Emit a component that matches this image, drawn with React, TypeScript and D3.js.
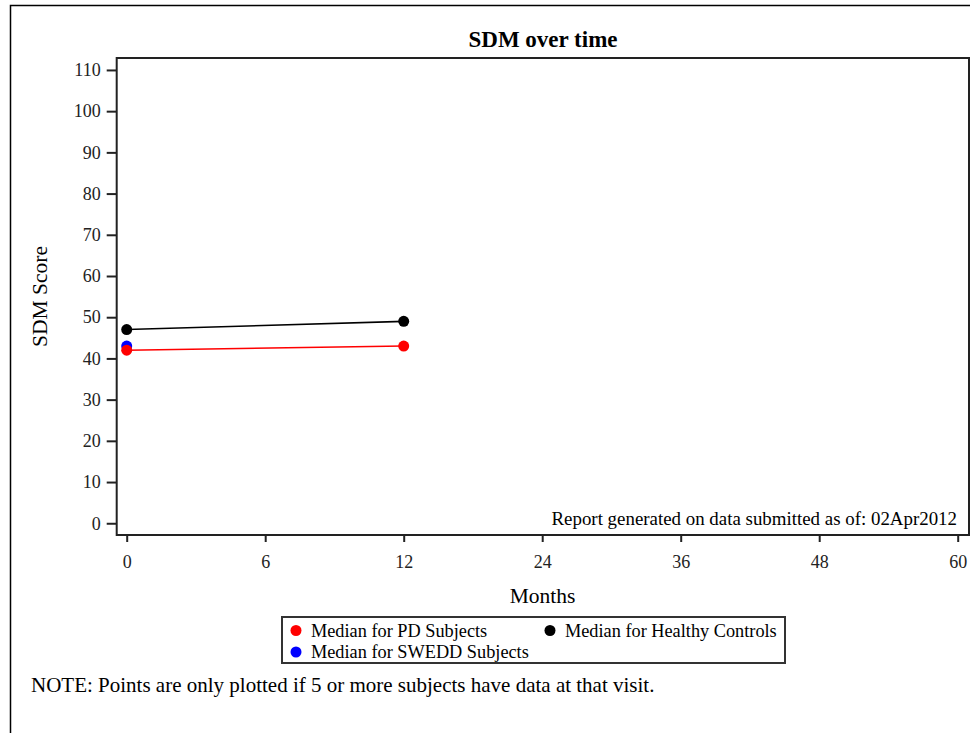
import React, { useEffect, useRef } from "react";
import * as d3 from "d3";

const months = [0, 12];
const pdValues = [42, 43];
const hcValues = [47, 49];
const sweddMonths = [0];
const sweddValues = [43];
const xTicks = [0, 6, 12, 24, 36, 48, 60];
const yTicks = [0, 10, 20, 30, 40, 50, 60, 70, 80, 90, 100, 110];

const W = 970, H = 733;
const FONT = "'Liberation Serif', 'Times New Roman', serif";

export default function App() {
  const ref = useRef<SVGSVGElement>(null);
  useEffect(() => {
    const svg = d3.select(ref.current);
    svg.selectAll("*").remove();
    const left = 116.7, right = 969, top = 58, bottom = 535;
    const x = d3.scalePoint<number>().domain(xTicks).range([126.7, 957.7]).padding(0);
    const y = d3.scaleLinear().domain([-2.85, 112.9]).range([bottom, top]);

    // outer border
    svg.append("path").attr("d", `M10.5,${H} V5.5 H${W}`).attr("fill", "none").attr("stroke", "#000").attr("stroke-width", 1.5);

    svg.append("text").attr("x", 543).attr("y", 47).attr("text-anchor", "middle")
      .attr("font-family", FONT).attr("font-size", 23).attr("font-weight", "bold").text("SDM over time");

    // frame
    svg.append("rect").attr("x", left).attr("y", top).attr("width", right - left).attr("height", bottom - top)
      .attr("fill", "none").attr("stroke", "#222").attr("stroke-width", 2);

    const yAxis = d3.axisLeft(y).tickValues(yTicks).tickSize(10).tickPadding(6);
    const gy = svg.append("g").attr("transform", `translate(${left},0)`).call(yAxis);
    const xAxis = d3.axisBottom(x).tickSize(7).tickPadding(13);
    const gx = svg.append("g").attr("transform", `translate(0,${bottom})`).call(xAxis);
    [gy, gx].forEach(g => {
      g.select(".domain").remove();
      g.selectAll("line").attr("stroke", "#222").attr("stroke-width", 2);
      g.selectAll("text").attr("font-family", FONT).attr("font-size", 18).attr("fill", "#222");
    });

    svg.append("text").attr("transform", `translate(47,296.5) rotate(-90)`).attr("text-anchor", "middle")
      .attr("font-family", FONT).attr("font-size", 21.5).text("SDM Score");
    svg.append("text").attr("x", 542.5).attr("y", 603).attr("text-anchor", "middle")
      .attr("font-family", FONT).attr("font-size", 21.5).text("Months");

    svg.append("text").attr("x", 957).attr("y", 525).attr("text-anchor", "end")
      .attr("font-family", FONT).attr("font-size", 18.9).text("Report generated on data submitted as of: 02Apr2012");

    const line = d3.line<[number, number]>().x(d => x(d[0]) as number).y(d => y(d[1]));
    const hc = months.map((m, i) => [m, hcValues[i]] as [number, number]);
    const pd = months.map((m, i) => [m, pdValues[i]] as [number, number]);
    const sw = sweddMonths.map((m, i) => [m, sweddValues[i]] as [number, number]);

    svg.append("path").attr("d", line(hc)).attr("fill", "none").attr("stroke", "#000").attr("stroke-width", 1.6);
    svg.append("path").attr("d", line(pd)).attr("fill", "none").attr("stroke", "#ff0000").attr("stroke-width", 1.6);
    const dots = (data: [number, number][], color: string) =>
      svg.append("g").selectAll("circle").data(data).join("circle")
        .attr("cx", d => x(d[0]) as number).attr("cy", d => y(d[1])).attr("r", 5.5).attr("fill", color);
    dots(hc, "#000");
    dots(sw, "#0000ff");
    dots(pd, "#ff0000");

    // legend
    const lg = svg.append("g");
    lg.append("rect").attr("x", 282).attr("y", 617).attr("width", 503).attr("height", 46)
      .attr("fill", "none").attr("stroke", "#333").attr("stroke-width", 2);
    const items = [
      { label: "Median for PD Subjects", color: "#ff0000", cx: 296, cy: 630.5 },
      { label: "Median for Healthy Controls", color: "#000", cx: 550, cy: 630.5 },
      { label: "Median for SWEDD Subjects", color: "#0000ff", cx: 296, cy: 652 },
    ];
    items.forEach(it => {
      lg.append("circle").attr("cx", it.cx).attr("cy", it.cy).attr("r", 5.5).attr("fill", it.color);
      lg.append("text").attr("x", it.cx + 15).attr("y", it.cy + 6)
        .attr("font-family", FONT).attr("font-size", 18.3).text(it.label);
    });

    svg.append("text").attr("x", 31).attr("y", 692)
      .attr("font-family", FONT).attr("font-size", 21).text("NOTE: Points are only plotted if 5 or more subjects have data at that visit.");
  }, []);
  return (
    <svg ref={ref} width={W} height={H} style={{ position: "absolute", left: 0, top: 0, background: "#fff" }} />
  );
}
